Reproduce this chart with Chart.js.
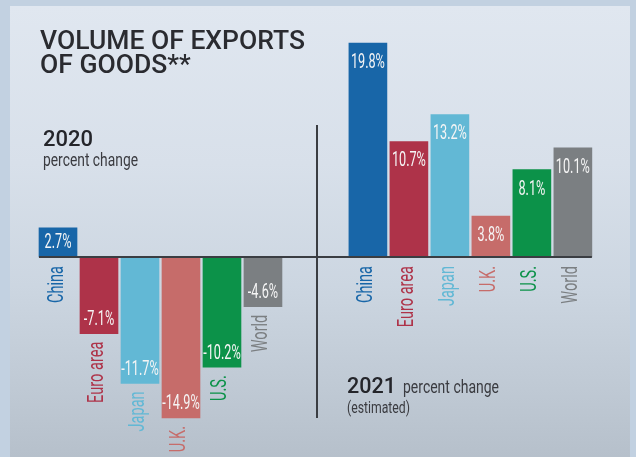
<!DOCTYPE html>
<html>
<head>
<meta charset="utf-8">
<script src="https://cdn.jsdelivr.net/npm/chart.js@4.4.1/dist/chart.umd.min.js"></script>
<style>
  html, body { margin: 0; padding: 0; }
  body { width: 636px; height: 457px; position: relative; overflow: hidden; background: #c2d1e1; }
  #panel {
    position: absolute; left: 10px; top: 6px; width: 620px; height: 451px;
    background: linear-gradient(to bottom, #e0e7f0 0%, #d8e0ea 35%, #ccd6e1 62%, #bfc9d4 85%, #b6c0cb 100%);
  }
  #chart { position: absolute; left: 0; top: 0; }
</style>
</head>
<body>
<div id="panel"></div>
<canvas id="chart" width="636" height="457"></canvas>
<script>
// Datos
const categories = ['China', 'Euro area', 'Japan', 'U.K.', 'U.S.', 'World'];
const values2020 = [2.7, -7.1, -11.7, -14.9, -10.2, -4.6];
const values2021 = [19.8, 10.7, 13.2, 3.8, 8.1, 10.1];
const barColors = ['#1866a8', '#ae3349', '#62b8d5', '#c66c6a', '#0c9249', '#7b7f82'];

const GROUP_OFFSET = 7.56; // separacion entre 2020 y 2021

// texto condensado (ajustado a un ancho)
function condensed(ctx, text, font, targetWidth) {
    ctx.font = font;
    return targetWidth / ctx.measureText(text).width;
}

function drawText(ctx, text, x, y, font, color, sx) {
    ctx.save();
    ctx.font = font;
    ctx.fillStyle = color;
    ctx.textAlign = 'left';
    ctx.textBaseline = 'alphabetic';
    ctx.translate(x, y);
    ctx.scale(sx, 1);
    ctx.fillText(text, 0, 0);
    ctx.restore();
}

const labelsPlugin = {
    id: 'labelsPlugin',
    afterDatasetsDraw(chart) {
        const ctx = chart.ctx;
        const yScale = chart.scales.y;
        const zero = yScale.getPixelForValue(0);
        const valueFont = '20px Roboto';
        const catFont = '22px Roboto';
        const sxVal = condensed(ctx, '19.8%', valueFont, 34);
        const sxCat = condensed(ctx, 'China', catFont, 37);

        chart.data.datasets.forEach((ds, di) => {
            const meta = chart.getDatasetMeta(di);
            meta.data.forEach((bar, i) => {
                const v = ds.data[i].y;
                const top = Math.min(bar.y, bar.base);
                const bottom = Math.max(bar.y, bar.base);
                // valor dentro de la barra
                let cy = v >= 0 ? Math.min(top + 19, (top + bottom) / 2) : bottom - 14.5;
                ctx.save();
                ctx.font = valueFont;
                ctx.fillStyle = '#f5f5f5';
                ctx.textAlign = 'center';
                ctx.textBaseline = 'middle';
                ctx.translate(bar.x, cy);
                ctx.scale(sxVal, 1);
                ctx.fillText(v.toFixed(1) + '%', 0, 1);
                ctx.restore();

                // categoria rotada
                const anchor = v >= 0 ? zero + 9 : bottom + 8;
                ctx.save();
                ctx.font = catFont;
                ctx.fillStyle = barColors[i];
                ctx.textAlign = 'right';
                ctx.textBaseline = 'middle';
                ctx.translate(bar.x - 1, anchor);
                ctx.rotate(-Math.PI / 2);
                ctx.scale(sxCat, 1);
                ctx.fillText(categories[i], 0, 0);
                ctx.restore();
            });
        });

        // linea base
        const first = chart.getDatasetMeta(0).data[0];
        const lastMeta = chart.getDatasetMeta(1).data;
        const last = lastMeta[lastMeta.length - 1];
        ctx.save();
        ctx.strokeStyle = '#3a3d42';
        ctx.lineWidth = 2;
        ctx.beginPath();
        ctx.moveTo(first.x - first.width / 2, zero);
        ctx.lineTo(last.x + last.width / 2, zero);
        ctx.stroke();

        // divisor vertical
        const leftEnd = chart.getDatasetMeta(0).data[5];
        const rightStart = chart.getDatasetMeta(1).data[0];
        const dx = Math.round((leftEnd.x + leftEnd.width / 2 + rightStart.x - rightStart.width / 2) / 2) + 2;
        ctx.lineWidth = 2;
        ctx.beginPath();
        ctx.moveTo(dx, 125);
        ctx.lineTo(dx, 418);
        ctx.stroke();
        ctx.restore();

        // titulos
        const titleFont = '500 26px Roboto';
        const sxTitle = condensed(ctx, 'VOLUME OF EXPORTS', titleFont, 265);
        drawText(ctx, 'VOLUME OF EXPORTS', 40, 49, titleFont, '#2a2b30', sxTitle);
        drawText(ctx, 'OF GOODS**', 40, 73, titleFont, '#2a2b30', sxTitle);

        const yearFont = '500 22px Roboto';
        const subFont = '19px Roboto';
        drawText(ctx, '2020', 43, 146, yearFont, '#24252a', condensed(ctx, '2020', yearFont, 50));
        drawText(ctx, 'percent change', 43, 166, subFont, '#3a3b40', condensed(ctx, 'percent change', subFont, 95));
        drawText(ctx, '2021', 347, 393, yearFont, '#24252a', condensed(ctx, '2021', yearFont, 49));
        drawText(ctx, 'percent change', 403, 393, subFont, '#3a3b40', condensed(ctx, 'percent change', subFont, 96));
        const estFont = '16px Roboto';
        drawText(ctx, '(estimated)', 347, 413, estFont, '#3a3b40', condensed(ctx, '(estimated)', estFont, 63));
    }
};

document.addEventListener('DOMContentLoaded', () => {
    const ctx = document.getElementById('chart').getContext('2d');

    new Chart(ctx, {
        type: 'bar',
        data: {
            datasets: [{
                label: '2020',
                data: values2020.map((v, i) => ({ x: i, y: v })),
                backgroundColor: barColors
            }, {
                label: '2021',
                data: values2021.map((v, i) => ({ x: i + GROUP_OFFSET, y: v })),
                backgroundColor: barColors
            }]
        },
        options: {
            responsive: false,
            animation: false,
            devicePixelRatio: 1,
            layout: { padding: 0 },
            datasets: { bar: { barThickness: 38, grouped: false } },
            scales: {
                x: { type: 'linear', min: -1.415, max: 14.10, offset: false, display: false },
                y: { min: -18.52, max: 23.8, display: false }
            },
            plugins: {
                legend: { display: false },
                tooltip: { enabled: false }
            }
        },
        plugins: [labelsPlugin]
    });
});
</script>
</body>
</html>
